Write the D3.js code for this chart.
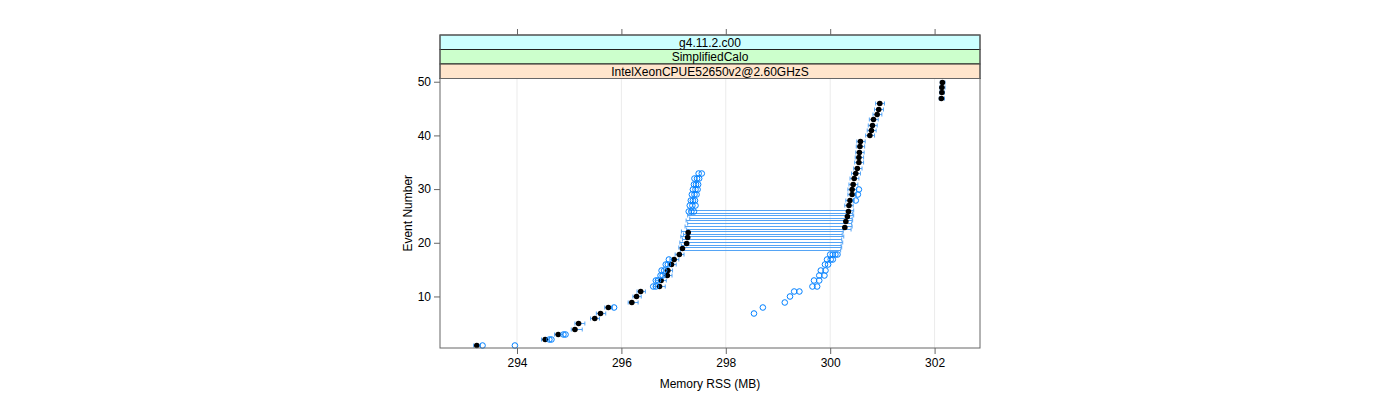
<!DOCTYPE html>
<html>
<head>
<meta charset="utf-8">
<script src="https://cdn.jsdelivr.net/npm/d3@7"></script>
<style>
  body { margin: 0; background: #fff; }
  text { font-family: "Liberation Sans", Arial, sans-serif; }
</style>
</head>
<body>
<svg id="chart"></svg>
<script>
// event numbers 1..50 and the black dot (mean) for each
const events = d3.range(1, 51);
const meanRSS = [
  293.23, 294.54, 294.79, 295.11, 295.18, 295.49, 295.60, 295.75, 296.20, 296.29,
  296.37, 296.73, 296.76, 296.88, 296.89, 296.96, 297.01, 297.11, 297.17, 297.25,
  297.27, 297.28, 300.28, 300.30, 300.33, 300.35, 300.36, 300.38, 300.42, 300.42,
  300.44, 300.46, 300.49, 300.52, 300.55, 300.55, 300.56, 300.57, 300.58, 300.76,
  300.79, 300.81, 300.83, 300.90, 300.93, 300.95, 302.13, 302.14, 302.14, 302.15
];
// error bar ends
const lowRSS = [
  293.17, 294.47, 294.72, 295.04, 295.11, 295.41, 295.52, 295.68, 296.13, 296.22,
  296.30, 296.62, 296.66, 296.80, 296.81, 296.89, 296.93, 297.03, 297.10, 297.12,
  297.14, 297.15, 297.22, 297.24, 297.27, 297.30, 300.28, 300.30, 300.34, 300.34,
  300.36, 300.38, 300.41, 300.45, 300.47, 300.48, 300.49, 300.50, 300.51, 300.68,
  300.71, 300.73, 300.75, 300.82, 300.85, 300.87, 302.09, 302.10, 302.10, 302.11
];
const highRSS = [
  293.30, 294.62, 294.88, 295.25, 295.30, 295.58, 295.70, 295.83, 296.32, 296.38,
  296.46, 296.84, 296.86, 296.97, 296.98, 297.05, 297.10, 297.20, 300.22, 300.24,
  300.26, 300.25, 300.42, 300.43, 300.45, 300.45, 300.44, 300.46, 300.50, 300.51,
  300.53, 300.55, 300.58, 300.61, 300.64, 300.64, 300.65, 300.66, 300.67, 300.85,
  300.88, 300.90, 300.92, 300.99, 301.02, 301.04, 302.19, 302.19, 302.20, 302.20
];
// second (offset) bar for the split events 19-26
const splitEvent = [19, 20, 21, 22, 23, 24, 25, 26];
const splitLow = [297.13, 297.15, 297.17, 297.19, 297.25, 297.27, 297.31, 297.34];
const splitHigh = [300.20, 300.21, 300.22, 300.23, 300.40, 300.41, 300.42, 300.43];
// individual run values (open blue circles)
const runEvent = [
  1, 1, 2, 2, 3, 3, 8,
  12, 12, 13, 13, 14, 14, 15, 15, 16, 16, 17,
  7, 8, 9, 10, 11, 11, 12, 12, 13, 13, 14, 14, 15, 15, 16, 16, 17, 17, 17,
  18, 18, 18, 18,
  26, 26, 26, 27, 27, 27, 28, 28, 28, 29, 29, 29, 30, 30, 30, 31, 31, 31, 32, 32, 32, 33, 33,
  28, 29, 30
];
const runRSS = [
  293.34, 293.96, 294.62, 294.66, 294.89, 294.93, 295.86,
  296.61, 296.66, 296.66, 296.70, 296.75, 296.79, 296.77, 296.82, 296.85, 296.89, 296.91,
  298.54, 298.71, 299.13, 299.23, 299.31, 299.41, 299.66, 299.75, 299.69, 299.79, 299.79, 299.89, 299.82, 299.91, 299.90, 299.96, 299.94, 300.01, 300.05,
  300.00, 300.05, 300.10, 300.14,
  297.29, 297.34, 297.39, 297.31, 297.36, 297.42, 297.33, 297.37, 297.41, 297.35, 297.40, 297.44,
  297.37, 297.42, 297.46, 297.39, 297.43, 297.47, 297.40, 297.45, 297.49, 297.48, 297.54,
  300.49, 300.53, 300.55
];
const stripLabels = ["g4.11.2.c00", "SimplifiedCalo", "IntelXeonCPUE52650v2@2.60GHzS"];
const stripColors = ["#ccffff", "#ccffcc", "#ffe5cc"];
const xTicks = [294, 296, 298, 300, 302];
const yTicks = [10, 20, 30, 40, 50];

const width = 1400, height = 400;
const panel = {left: 440, right: 980, top: 78.5, bottom: 348};
const stripH = 14.5;
const barColor = '#55a4f5';

const svg = d3.select('#chart').attr('width', width).attr('height', height);
svg.append('rect').attr('width', width).attr('height', height).attr('fill', '#fff');

const x = d3.scaleLinear().domain([292.525, 302.87]).range([panel.left, panel.right]);
const y = d3.scaleLinear().domain([0.4, 50.6]).range([panel.bottom, panel.top]);

// grid
svg.append('g').selectAll('line').data(xTicks).join('line')
  .attr('x1', d => x(d)).attr('x2', d => x(d))
  .attr('y1', panel.top).attr('y2', panel.bottom)
  .attr('stroke', '#ebebeb').attr('stroke-width', 1);

// error bars
const bars = svg.append('g').attr('stroke', barColor).attr('stroke-width', 1).attr('fill', 'none');
function drawBar(yy, lo, hi) {
  const x1 = x(lo), x2 = x(hi);
  bars.append('line').attr('x1', x1).attr('x2', x2).attr('y1', yy).attr('y2', yy);
  bars.append('line').attr('x1', x1).attr('x2', x1).attr('y1', yy - 2).attr('y2', yy + 2);
  bars.append('line').attr('x1', x2).attr('x2', x2).attr('y1', yy - 2).attr('y2', yy + 2);
}
events.forEach((e, i) => {
  const split = splitEvent.indexOf(e) >= 0;
  const yy = Math.round(y(e)) + 0.5 - (split ? 1 : 0);
  drawBar(yy, lowRSS[i], highRSS[i]);
});
splitEvent.forEach((e, i) => {
  drawBar(Math.round(y(e)) + 2.5, splitLow[i], splitHigh[i]);
});

// black dots
svg.append('g').selectAll('circle').data(events).join('circle')
  .attr('cx', (d, i) => x(meanRSS[i]))
  .attr('cy', d => Math.round(y(d)) + 0.5)
  .attr('r', 2.8).attr('fill', '#000');

// open circles
svg.append('g').selectAll('circle').data(runEvent).join('circle')
  .attr('cx', (d, i) => x(runRSS[i]))
  .attr('cy', d => Math.round(y(d)) + 0.5)
  .attr('r', 2.8).attr('fill', 'none')
  .attr('stroke', '#0080ff').attr('stroke-width', 1);

// panel border
svg.append('rect')
  .attr('x', panel.left).attr('y', panel.top)
  .attr('width', panel.right - panel.left).attr('height', panel.bottom - panel.top)
  .attr('fill', 'none').attr('stroke', '#666');

// strips
const strips = svg.append('g');
stripLabels.forEach((lab, i) => {
  const top = panel.top - stripH * (3 - i);
  strips.append('rect')
    .attr('x', panel.left).attr('y', top)
    .attr('width', panel.right - panel.left).attr('height', stripH)
    .attr('fill', stripColors[i]).attr('stroke', '#222');
  strips.append('text')
    .attr('x', (panel.left + panel.right) / 2).attr('y', top + stripH / 2)
    .attr('dy', '0.36em').attr('text-anchor', 'middle')
    .attr('font-size', 12).text(lab);
});
svg.append('rect')
  .attr('x', panel.left).attr('y', panel.top - stripH * 3)
  .attr('width', panel.right - panel.left).attr('height', stripH * 3)
  .attr('fill', 'none').attr('stroke', '#666');

// axes
const bottomAxis = svg.append('g')
  .attr('transform', `translate(0,${panel.bottom})`)
  .call(d3.axisBottom(x).tickValues(xTicks).tickSize(6).tickPadding(4));
const topAxis = svg.append('g')
  .attr('transform', `translate(0,${panel.top - stripH * 3})`)
  .call(d3.axisTop(x).tickValues(xTicks).tickSize(6).tickFormat(''));
const leftAxis = svg.append('g')
  .attr('transform', `translate(${panel.left},0)`)
  .call(d3.axisLeft(y).tickValues(yTicks).tickSize(6).tickPadding(3));
[bottomAxis, topAxis, leftAxis].forEach(a => {
  a.select('.domain').remove();
  a.selectAll('line').attr('stroke', '#666');
  a.selectAll('text').attr('font-size', 12).attr('fill', '#000')
    .attr('font-family', '"Liberation Sans", Arial, sans-serif');
});

svg.append('text')
  .attr('x', (panel.left + panel.right) / 2).attr('y', 388)
  .attr('text-anchor', 'middle').attr('font-size', 12).text('Memory RSS (MB)');
svg.append('text')
  .attr('transform', `translate(412,${(panel.top + panel.bottom) / 2}) rotate(-90)`)
  .attr('text-anchor', 'middle').attr('font-size', 12).text('Event Number');
</script>
</body>
</html>
